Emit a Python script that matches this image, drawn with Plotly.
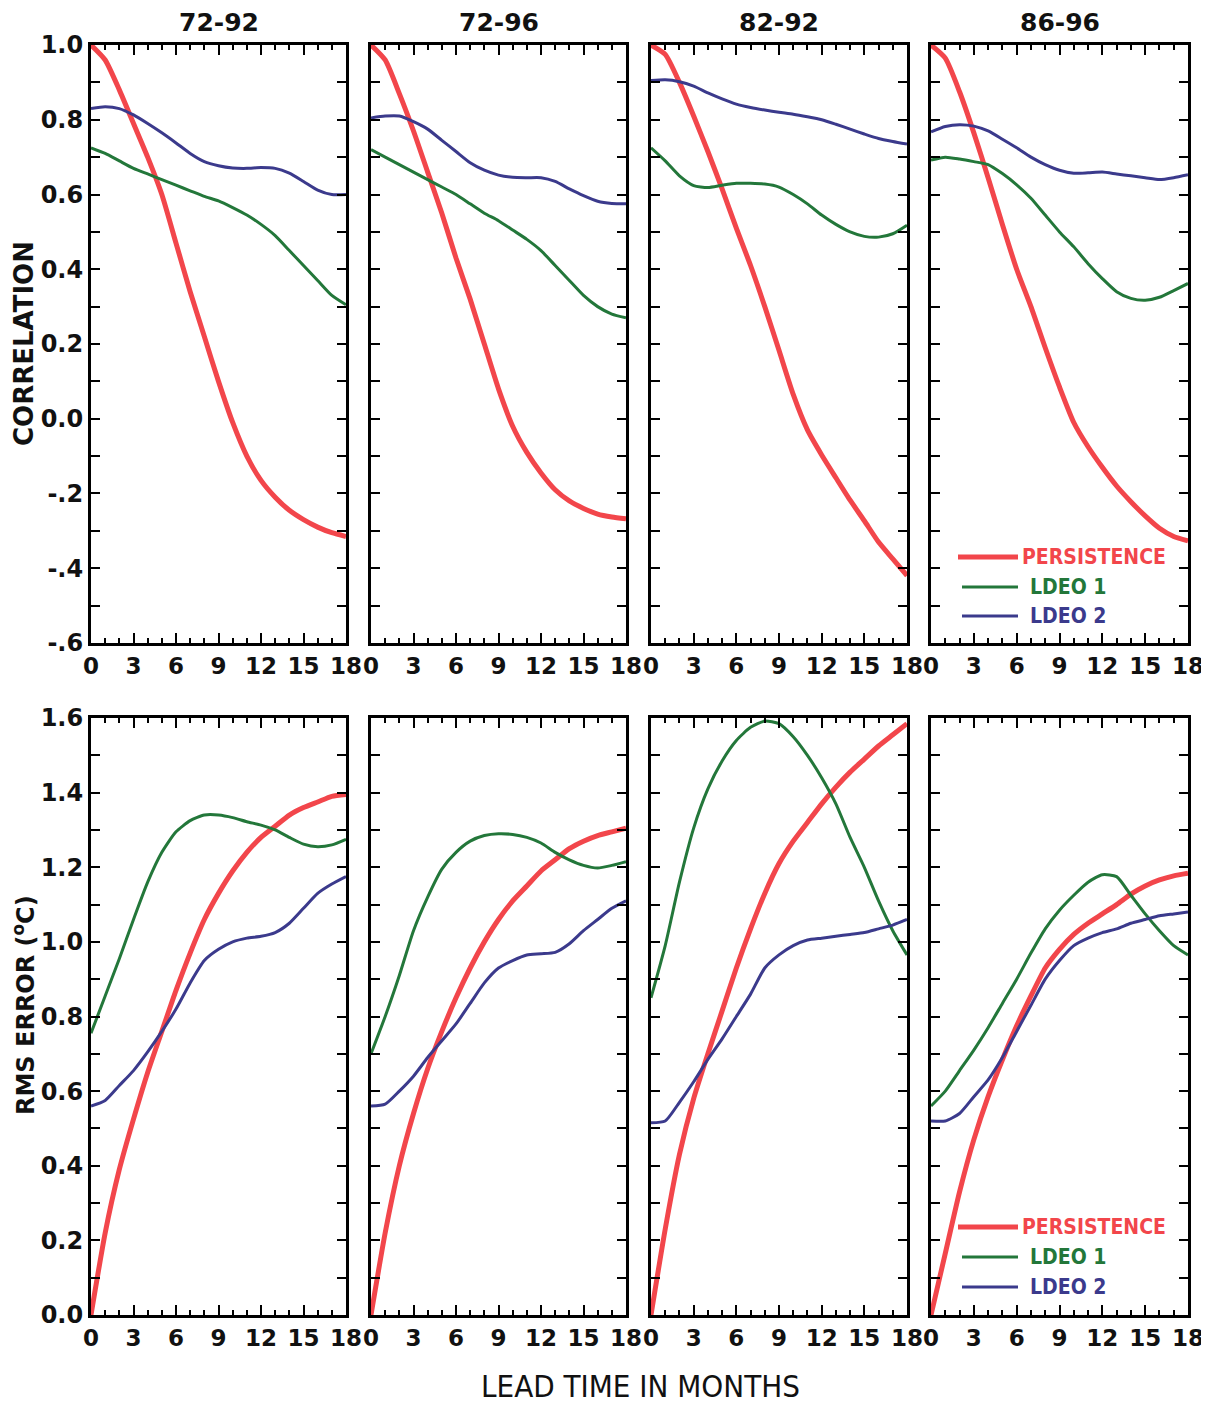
import plotly.graph_objects as go
from plotly.subplots import make_subplots

# ---------------- data ----------------
months = list(range(19))
periods = ["72-92", "72-96", "82-92", "86-96"]
series_names = ["PERSISTENCE", "LDEO 1", "LDEO 2"]

corr_persistence = {
    "72-92": [1.0, 0.96, 0.88, 0.79, 0.70, 0.60, 0.47, 0.34, 0.22, 0.10, -0.01, -0.10, -0.165, -0.21, -0.245, -0.27, -0.29, -0.305, -0.315],
    "72-96": [1.0, 0.96, 0.87, 0.77, 0.66, 0.55, 0.43, 0.32, 0.20, 0.08, -0.02, -0.09, -0.145, -0.19, -0.22, -0.24, -0.255, -0.263, -0.268],
    "82-92": [1.0, 0.975, 0.90, 0.81, 0.715, 0.615, 0.51, 0.41, 0.30, 0.183, 0.065, -0.03, -0.097, -0.158, -0.218, -0.273, -0.33, -0.375, -0.42],
    "86-96": [1.0, 0.965, 0.875, 0.765, 0.645, 0.52, 0.40, 0.30, 0.19, 0.085, -0.01, -0.075, -0.13, -0.18, -0.222, -0.26, -0.293, -0.315, -0.327],
}
corr_ldeo1 = {
    "72-92": [0.725, 0.71, 0.69, 0.67, 0.655, 0.64, 0.625, 0.61, 0.595, 0.583, 0.565, 0.545, 0.52, 0.49, 0.45, 0.41, 0.37, 0.33, 0.305],
    "72-96": [0.72, 0.70, 0.68, 0.66, 0.64, 0.62, 0.60, 0.575, 0.55, 0.53, 0.505, 0.48, 0.45, 0.41, 0.37, 0.33, 0.30, 0.28, 0.27],
    "82-92": [0.725, 0.69, 0.65, 0.624, 0.619, 0.625, 0.63, 0.63, 0.628, 0.62, 0.60, 0.575, 0.545, 0.52, 0.50, 0.488, 0.486, 0.495, 0.518],
    "86-96": [0.692, 0.70, 0.695, 0.688, 0.68, 0.656, 0.626, 0.59, 0.545, 0.50, 0.46, 0.415, 0.375, 0.34, 0.322, 0.317, 0.325, 0.343, 0.362],
}
corr_ldeo2 = {
    "72-92": [0.83, 0.835, 0.83, 0.813, 0.79, 0.765, 0.738, 0.71, 0.688, 0.677, 0.671, 0.67, 0.672, 0.67, 0.657, 0.635, 0.612, 0.60, 0.60],
    "72-96": [0.805, 0.81, 0.81, 0.795, 0.775, 0.745, 0.715, 0.685, 0.665, 0.652, 0.646, 0.645, 0.645, 0.635, 0.615, 0.597, 0.582, 0.576, 0.575],
    "82-92": [0.905, 0.907, 0.902, 0.89, 0.872, 0.856, 0.842, 0.833, 0.826, 0.82, 0.815, 0.808, 0.80, 0.788, 0.775, 0.762, 0.75, 0.742, 0.735],
    "86-96": [0.768, 0.782, 0.787, 0.783, 0.77, 0.748, 0.725, 0.70, 0.68, 0.665, 0.657, 0.658, 0.66, 0.655, 0.65, 0.645, 0.64, 0.645, 0.653],
}

rms_persistence = {
    "72-92": [0.0, 0.22, 0.39, 0.525, 0.65, 0.76, 0.87, 0.97, 1.06, 1.13, 1.19, 1.24, 1.28, 1.31, 1.34, 1.36, 1.375, 1.39, 1.395],
    "72-96": [0.0, 0.22, 0.40, 0.54, 0.66, 0.76, 0.85, 0.93, 1.0, 1.06, 1.11, 1.15, 1.19, 1.22, 1.25, 1.27, 1.285, 1.295, 1.305],
    "82-92": [0.0, 0.23, 0.43, 0.58, 0.70, 0.815, 0.93, 1.035, 1.13, 1.21, 1.27, 1.32, 1.37, 1.415, 1.455, 1.49, 1.525, 1.555, 1.585],
    "86-96": [0.0, 0.165, 0.33, 0.47, 0.585, 0.684, 0.775, 0.855, 0.93, 0.98, 1.02, 1.05, 1.075, 1.10, 1.128, 1.15, 1.166, 1.177, 1.184],
}
rms_ldeo1 = {
    "72-92": [0.755, 0.855, 0.955, 1.06, 1.16, 1.24, 1.295, 1.325, 1.34, 1.34, 1.333, 1.322, 1.313, 1.30, 1.28, 1.262, 1.255, 1.26, 1.275],
    "72-96": [0.70, 0.80, 0.91, 1.03, 1.12, 1.195, 1.24, 1.27, 1.285, 1.29, 1.288, 1.28, 1.265, 1.24, 1.22, 1.205, 1.198, 1.205, 1.215],
    "82-92": [0.85, 0.99, 1.16, 1.305, 1.41, 1.485, 1.54, 1.575, 1.592, 1.585, 1.55, 1.50, 1.44, 1.37, 1.28, 1.20, 1.11, 1.03, 0.965],
    "86-96": [0.56, 0.60, 0.655, 0.71, 0.77, 0.835, 0.90, 0.97, 1.035, 1.085, 1.125, 1.16, 1.18, 1.175, 1.125, 1.075, 1.03, 0.99, 0.965],
}
rms_ldeo2 = {
    "72-92": [0.56, 0.575, 0.615, 0.655, 0.705, 0.76, 0.82, 0.89, 0.95, 0.98, 1.0, 1.01, 1.015, 1.025, 1.05, 1.09, 1.13, 1.155, 1.175],
    "72-96": [0.56, 0.565, 0.60, 0.64, 0.69, 0.735, 0.78, 0.835, 0.89, 0.93, 0.95, 0.965, 0.968, 0.972, 0.995, 1.03, 1.06, 1.09, 1.11],
    "82-92": [0.515, 0.52, 0.57, 0.625, 0.685, 0.74, 0.80, 0.86, 0.93, 0.965, 0.99, 1.005, 1.01, 1.015, 1.02, 1.025, 1.035, 1.045, 1.06],
    "86-96": [0.52, 0.52, 0.54, 0.585, 0.63, 0.69, 0.76, 0.83, 0.90, 0.95, 0.99, 1.01, 1.025, 1.035, 1.05, 1.06, 1.07, 1.075, 1.08],
}

x_tickvals = [0, 3, 6, 9, 12, 15, 18]
x_ticktext = ["0", "3", "6", "9", "12", "15", "18"]
corr_tickvals = [-0.6, -0.4, -0.2, 0.0, 0.2, 0.4, 0.6, 0.8, 1.0]
corr_ticktext = ["-.6", "-.4", "-.2", "0.0", "0.2", "0.4", "0.6", "0.8", "1.0"]
rms_tickvals = [0.0, 0.2, 0.4, 0.6, 0.8, 1.0, 1.2, 1.4, 1.6]
rms_ticktext = ["0.0", "0.2", "0.4", "0.6", "0.8", "1.0", "1.2", "1.4", "1.6"]

# ---------------- style ----------------
PAGE_W, PAGE_H = 1209, 1411
OFF = 8  # default body margin of the html page
W, H = PAGE_W - OFF - 2, PAGE_H - 2 * OFF


def fx(px):
    return (px - OFF) / W


def fy(py):
    return 1 - (py - OFF) / H


colors = {"PERSISTENCE": "#f2464b", "LDEO 1": "#23773a", "LDEO 2": "#3b3a8c"}
widths = {"PERSISTENCE": 5, "LDEO 1": 3, "LDEO 2": 3}
FONT = "DejaVu Sans, Liberation Sans, Arial, sans-serif"
NARROW = "DejaVu Sans Condensed, Liberation Sans Narrow, DejaVu Sans, sans-serif"

col_px = [(91, 346), (371, 626), (651, 907), (931, 1188)]
row_px = [(45, 643), (718, 1315)]

fig = make_subplots(rows=2, cols=4)

for ci, p in enumerate(periods):
    for ri, sets in enumerate([(corr_persistence, corr_ldeo1, corr_ldeo2),
                               (rms_persistence, rms_ldeo1, rms_ldeo2)]):
        for name, data in zip(series_names, sets):
            fig.add_trace(go.Scatter(
                x=months, y=data[p], mode="lines", name=name,
                line=dict(color=colors[name], width=widths[name], shape="spline", smoothing=0.6),
                showlegend=False, hoverinfo="skip"),
                row=ri + 1, col=ci + 1)

axis_common = dict(
    showline=True, linewidth=3, linecolor="black", mirror="ticks",
    ticks="inside", tickwidth=2, tickcolor="black",
    showgrid=False, zeroline=False, automargin=False,
)

for ri in range(2):
    for ci in range(4):
        idx = ri * 4 + ci + 1
        xa = "xaxis" if idx == 1 else f"xaxis{idx}"
        ya = "yaxis" if idx == 1 else f"yaxis{idx}"
        x0, x1 = col_px[ci]
        y0, y1 = row_px[ri]
        fig.layout[xa].update(
            domain=[fx(x0), fx(x1)], range=[0, 18], tickvals=x_tickvals, ticktext=x_ticktext,
            ticklen=10, ticklabeloverflow="allow",
            tickfont=dict(family=FONT, size=23, color="#111", weight="bold"),
            minor=dict(ticks="inside", ticklen=5, tickwidth=2, tickcolor="black", dtick=1, tick0=0),
            **axis_common)
        if ri == 0:
            yv, yt, yr = corr_tickvals, corr_ticktext, [-0.6001, 1.0001]
        else:
            yv, yt, yr = rms_tickvals, rms_ticktext, [-0.0001, 1.6001]
        fig.layout[ya].update(
            domain=[fy(y1), fy(y0)], range=yr, tickvals=yv, ticktext=yt,
            showticklabels=(ci == 0), ticklen=9, ticklabeloverflow="allow",
            tickfont=dict(family=FONT, size=24, color="#111", weight="bold"),
            minor=dict(ticks="inside", ticklen=9, tickwidth=2, tickcolor="black", dtick=0.1, tick0=0),
            **axis_common)

annotations = []
# panel titles
for ci, p in enumerate(periods):
    x0, x1 = col_px[ci]
    annotations.append(dict(text=p, x=fx((x0 + x1) / 2), y=fy(22), xref="paper", yref="paper",
                            showarrow=False, xanchor="center", yanchor="middle",
                            font=dict(family=FONT, size=25, color="#111", weight="bold")))
# axis titles
annotations.append(dict(text="CORRELATION", x=fx(24), y=fy(344), xref="paper", yref="paper",
                        showarrow=False, textangle=-90, xanchor="center", yanchor="middle",
                        font=dict(family=FONT, size=26, color="#111", weight="bold")))
annotations.append(dict(text="RMS ERROR (<sup>o</sup>C)", x=fx(24), y=fy(1005), xref="paper", yref="paper",
                        showarrow=False, textangle=-90, xanchor="center", yanchor="middle",
                        font=dict(family=FONT, size=24, color="#111", weight="bold")))
annotations.append(dict(text="LEAD TIME IN MONTHS", x=fx(640), y=fy(1386), xref="paper", yref="paper",
                        showarrow=False, xanchor="center", yanchor="middle",
                        font=dict(family=NARROW, size=31, color="#111")))

# legends inside panel 4 (top and bottom)
shapes = []
legend_y = {0: [557, 587, 616], 1: [1227, 1257, 1287]}
x0p, x1p = col_px[3]
for ri in range(2):
    ry0, ry1 = row_px[ri]
    idx = ri * 4 + 4
    xd = f"x{idx} domain"
    yd = f"y{idx} domain"
    for k, name in enumerate(series_names):
        ypx = legend_y[ri][k]
        yy = 1 - (ypx - ry0) / (ry1 - ry0)
        lx0 = (958 - x0p) / (x1p - x0p) if k == 0 else (962 - x0p) / (x1p - x0p)
        lx1 = (1018 - x0p) / (x1p - x0p)
        shapes.append(dict(type="line", xref=xd, yref=yd, x0=lx0, x1=lx1, y0=yy, y1=yy,
                           line=dict(color=colors[name], width=widths[name])))
        tx = (1020 - x0p) / (x1p - x0p) if k == 0 else (1028 - x0p) / (x1p - x0p)
        annotations.append(dict(text=name, xref=xd, yref=yd, x=tx, y=yy, showarrow=False,
                                xanchor="left", yanchor="middle",
                                font=dict(family=NARROW, size=21, color=colors[name], weight="bold")))

fig.update_layout(
    width=W, height=H, margin=dict(l=0, r=0, t=0, b=0, autoexpand=False),
    paper_bgcolor="white", plot_bgcolor="white",
    annotations=annotations, shapes=shapes, showlegend=False,
)

fig.write_html("out.html")
